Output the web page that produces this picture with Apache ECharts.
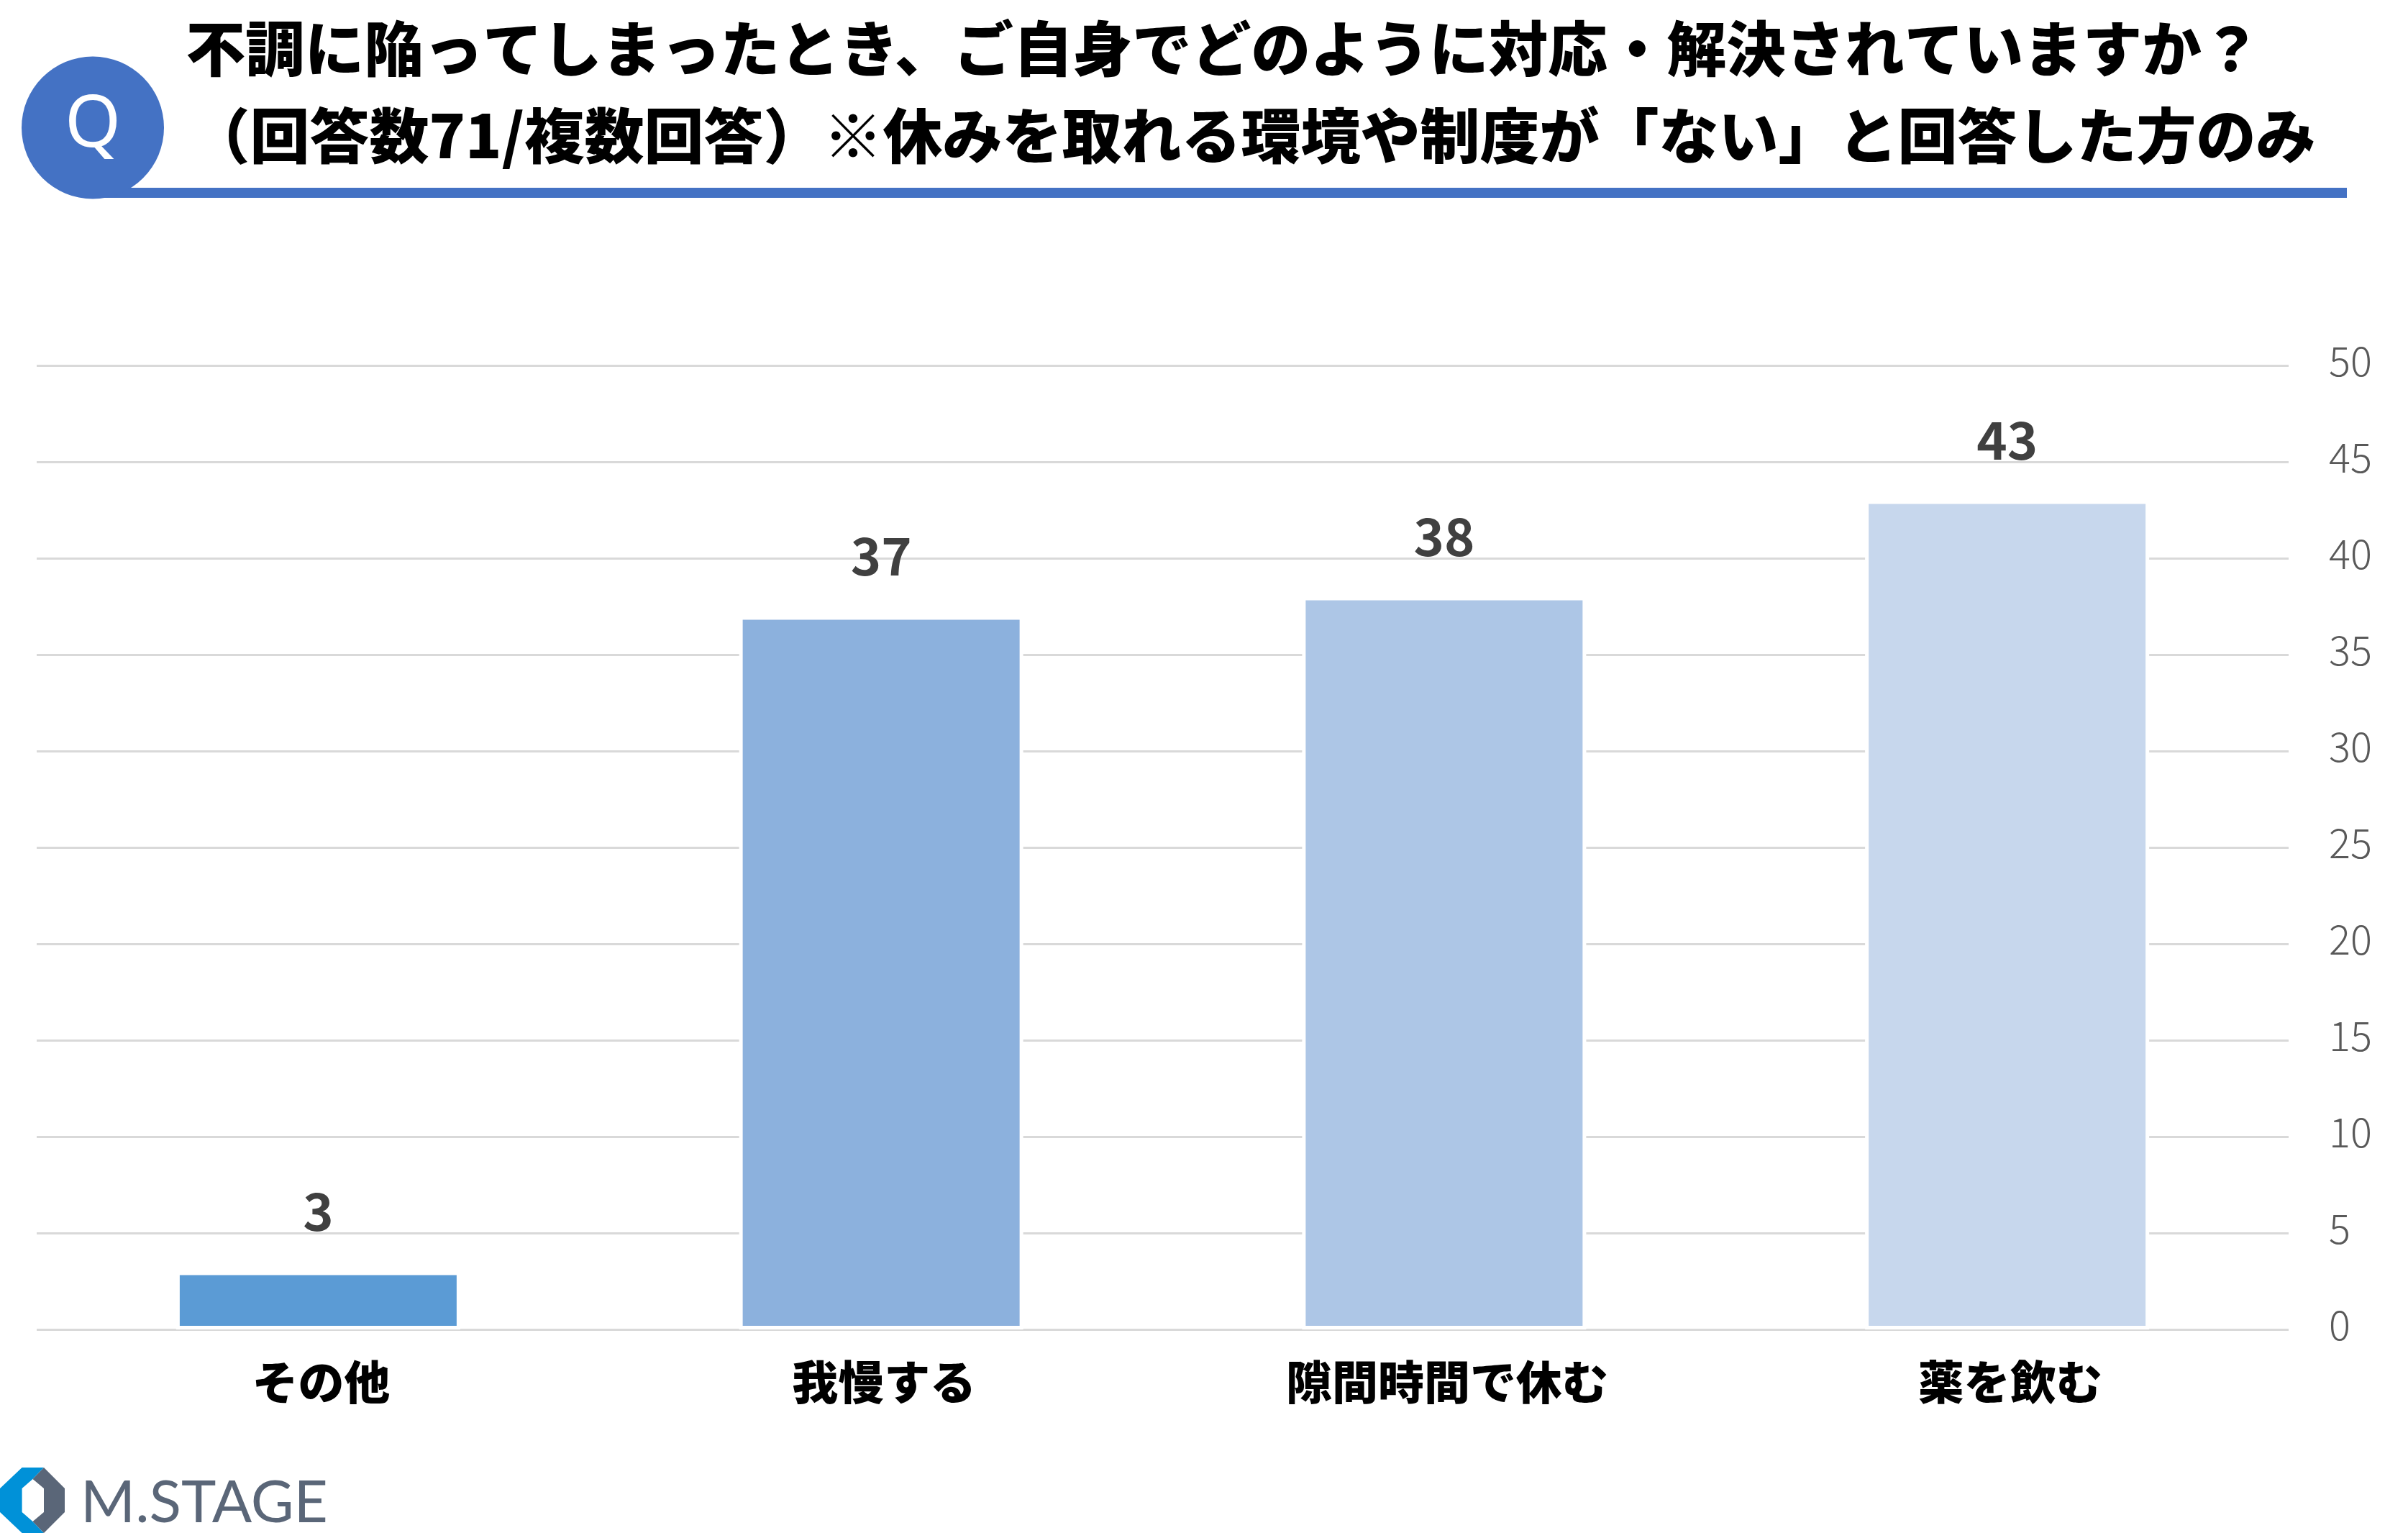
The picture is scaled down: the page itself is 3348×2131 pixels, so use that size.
<!DOCTYPE html>
<html>
<head>
<meta charset="utf-8">
<title>chart</title>
<style>
    html, body { margin: 0; padding: 0; background: #fff; }
    #main { width: 3348px; height: 2131px; }
</style>
<script src="https://cdn.jsdelivr.net/npm/echarts@6/dist/echarts.min.js"></script>
</head>
<body>
<div id="main"></div>
<script>
var categories = ['その他', '我慢する', '隙間時間で休む', '薬を飲む'];
var answerCounts = [3, 37, 38, 43];
var barColors = ['#5B9BD5', '#8CB1DD', '#ADC6E6', '#C7D7ED'];
var titleLine1 = '不調に陥ってしまったとき、ご自身でどのように対応・解決されていますか？';
var titleLine2 = '（回答数71/複数回答）※休みを取れる環境や制度が「ない」と回答した方のみ';
var fontName = '"Noto Sans CJK JP", "Noto Sans", sans-serif';

var chart = echarts.init(document.getElementById('main'));
var option = {
    backgroundColor: '#ffffff',
    animation: false,
    grid: {
        left: 51,
        right: 166,
        top: 508,
        bottom: 283
    },
    xAxis: [{
        type: 'category',
        data: categories,
        axisLine: { show: false },
        axisTick: { show: false },
        axisLabel: {
            margin: 41,
            padding: [0, 0, 0, 8],
            color: '#000000',
            fontFamily: fontName,
            fontWeight: 900,
            fontSize: 64
        }
    }],
    yAxis: [{
        type: 'value',
        position: 'right',
        min: 0,
        max: 50,
        interval: 5,
        axisLine: { show: false },
        axisTick: { show: false },
        axisLabel: {
            margin: 56,
            verticalAlign: 'bottom',
            lineHeight: 12,
            color: '#595959',
            fontFamily: fontName,
            fontWeight: 300,
            fontSize: 56
        },
        splitLine: {
            show: true,
            lineStyle: { color: '#D9D9D9', width: 3 }
        }
    }],
    series: [{
        type: 'bar',
        barWidth: 395,
        data: answerCounts.map(function (value, i) {
            return { value: value, itemStyle: { color: barColors[i] } };
        }),
        itemStyle: {
            borderColor: '#ffffff',
            borderWidth: 5
        },
        label: {
            show: true,
            position: 'top',
            distance: 48,
            color: '#404040',
            fontFamily: fontName,
            fontWeight: 'bold',
            fontSize: 72
        }
    }],
    graphic: [
        // 見出しの帯と丸
        { type: 'rect', shape: { x: 120, y: 261, width: 3143, height: 14 }, style: { fill: '#4472C4' } },
        { type: 'circle', shape: { cx: 129, cy: 177.5, r: 99 }, style: { fill: '#4472C4' } },
        { type: 'text', x: 129, y: 176, style: { text: 'Q', fill: '#ffffff', font: '100px "Noto Sans", sans-serif', textAlign: 'center', textVerticalAlign: 'middle' } },
        { type: 'text', x: 1701, y: 68, style: { text: titleLine1, fill: '#000000', font: '900 82.6px ' + fontName, textAlign: 'center', textVerticalAlign: 'middle' } },
        { type: 'text', x: 1742, y: 188, style: { text: titleLine2, fill: '#000000', font: '900 83px ' + fontName, textAlign: 'center', textVerticalAlign: 'middle' } },
        // ロゴ
        { type: 'polygon', shape: { points: [[30.6, 2040], [61, 2040], [45.5, 2056], [30.6, 2069], [30.6, 2102], [45.5, 2115], [61, 2131], [30.6, 2131], [0, 2102], [0, 2069]] }, style: { fill: '#0091D8' } },
        { type: 'polygon', shape: { points: [[61, 2040], [90, 2069], [90, 2102], [61, 2131], [45.5, 2115], [61, 2102], [61, 2069], [45.5, 2056]] }, style: { fill: '#5A6678' } },
        { type: 'text', x: 112, y: 2090, style: { text: 'M.STAGE', fill: '#5A6678', font: '82px Lato, sans-serif', textAlign: 'left', textVerticalAlign: 'middle' } }
    ]
};
chart.setOption(option);
window.addEventListener('resize', function () {
    chart.resize();
});
</script>
</body>
</html>
